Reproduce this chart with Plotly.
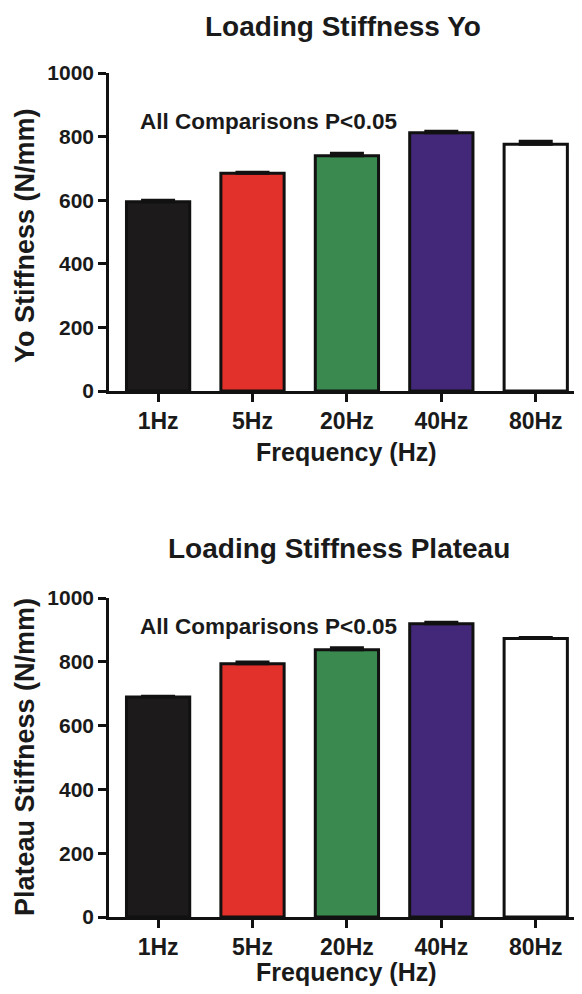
import plotly.graph_objects as go

categories = ["1Hz", "5Hz", "20Hz", "40Hz", "80Hz"]
bar_colors = ["#1c1a1b", "#e2312b", "#3a8a50", "#43287a", "#ffffff"]

yo_values = [595, 685, 740, 812, 776]
yo_errors = [5, 3, 8, 5, 9]

plateau_values = [690, 794, 838, 919, 873]
plateau_errors = [2, 5, 6, 5, 3]

y_ticks = [0, 200, 400, 600, 800, 1000]

OFF = 8  # page body margin offset
W, H = 582 - OFF, 994 - OFF
ML, MR, MT, MB = 109 - OFF, 0, 0, 0
FONT = "Liberation Sans, Arial, sans-serif"

fig = go.Figure()

for vals, errs, xa, ya in [(yo_values, yo_errors, "x", "y"),
                           (plateau_values, plateau_errors, "x2", "y2")]:
    fig.add_trace(go.Bar(
        x=categories, y=vals, xaxis=xa, yaxis=ya,
        width=0.67,
        marker=dict(color=bar_colors, line=dict(color="#111111", width=3)),
        error_y=dict(type="data", array=errs, symmetric=False,
                     arrayminus=[0] * len(errs),
                     color="#111111", thickness=3, width=17),
        showlegend=False,
    ))

def py(pix):
    return 1 - (pix - OFF - MT) / (H - MT - MB)

def px(pix):
    return (pix - OFF - ML) / (W - ML - MR)

axis_common = dict(
    showgrid=False, zeroline=False, showline=True, linecolor="#111111",
    linewidth=2.5, ticks="outside", ticklen=8, tickwidth=2.5,
    tickcolor="#111111", automargin=False,
)

xfont = dict(family=FONT, size=23, color="#1a1a1a", weight="bold")
yfont = dict(family=FONT, size=21, color="#1a1a1a", weight="bold")

fig.update_layout(
    width=W, height=H, autosize=False,
    margin=dict(l=ML, r=MR, t=MT, b=MB, pad=0),
    paper_bgcolor="white", plot_bgcolor="white",
    xaxis=dict(domain=[0, 1], anchor="y", range=[-0.52, 4.49],
               tickfont=xfont, **axis_common),
    yaxis=dict(domain=[py(391), py(73)], anchor="x", range=[0, 1000],
               tickvals=y_ticks, tickfont=yfont, **axis_common),
    xaxis2=dict(domain=[0, 1], anchor="y2", range=[-0.52, 4.49],
                tickfont=xfont, **axis_common),
    yaxis2=dict(domain=[py(917), py(598)], anchor="x2", range=[0, 1000],
                tickvals=y_ticks, tickfont=yfont, **axis_common),
)

def ann(text, x, y, size, xanchor="center", angle=0):
    fig.add_annotation(
        text="<b>%s</b>" % text, xref="paper", yref="paper",
        x=px(x), y=py(y), xanchor=xanchor, yanchor="middle",
        showarrow=False, textangle=angle,
        font=dict(family=FONT, size=size, color="#1a1a1a"),
    )

# titles
ann("Loading Stiffness Yo", 343, 27, 28)
ann("Loading Stiffness Plateau", 339, 548, 28)
# significance notes
ann("All Comparisons P&lt;0.05", 138, 122, 22.5, xanchor="left")
ann("All Comparisons P&lt;0.05", 138, 626, 22.5, xanchor="left")
# axis titles
ann("Frequency (Hz)", 346, 452, 25)
ann("Frequency (Hz)", 346, 972, 25)
ann("Yo Stiffness (N/mm)", 25, 236, 27, angle=-90)
ann("Plateau Stiffness (N/mm)", 25, 757, 27, angle=-90)

fig.write_html("out.html")
